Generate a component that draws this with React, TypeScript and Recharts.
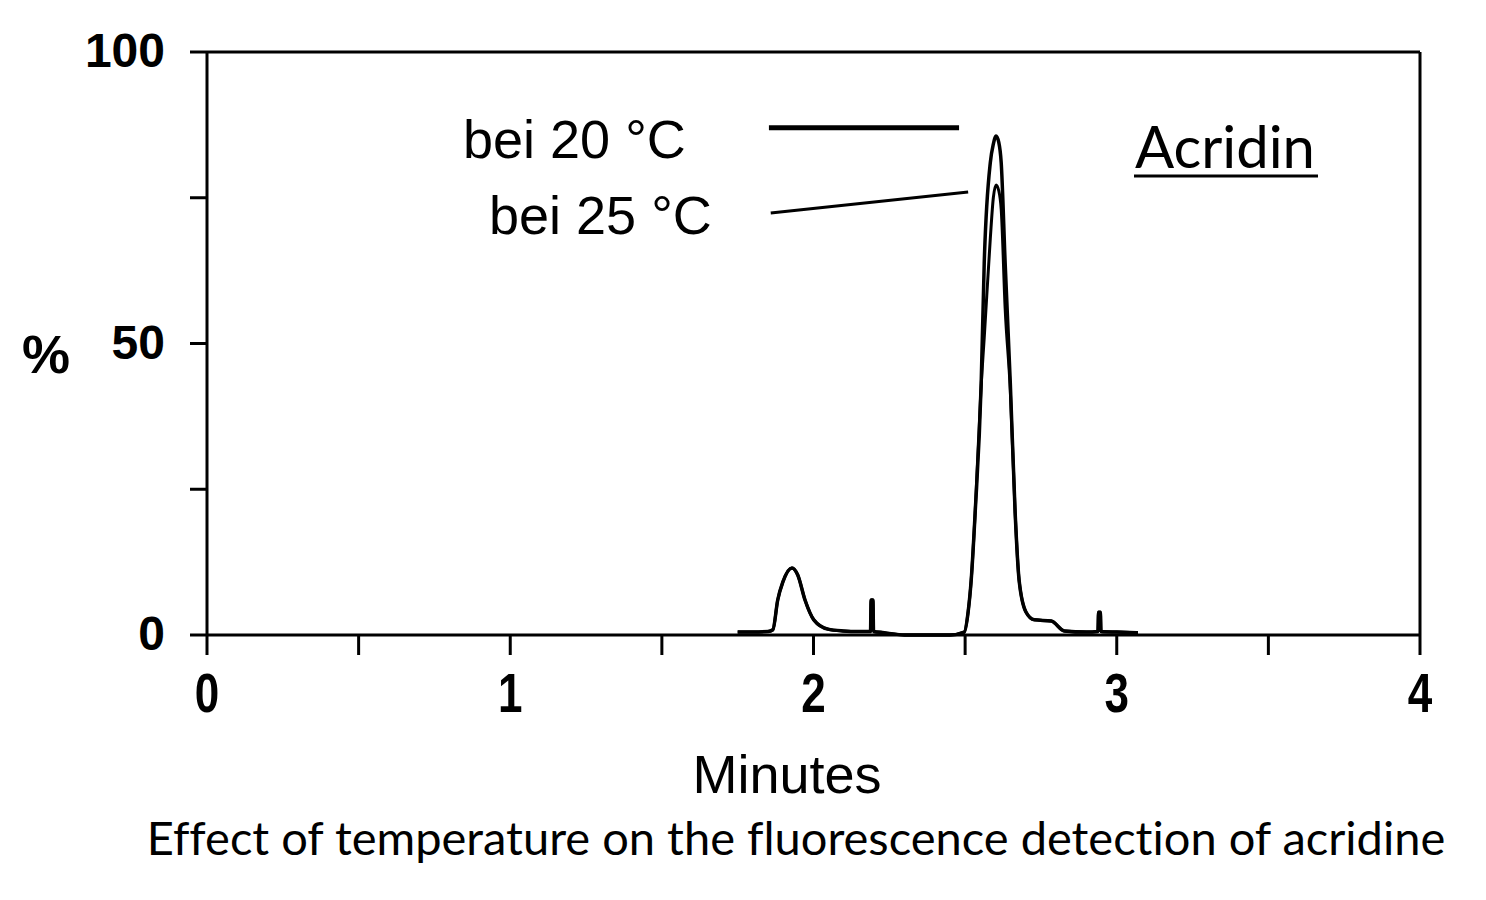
import { LineChart, Line, XAxis, YAxis, ReferenceLine } from "recharts"

// retention time in minutes
const minutes = [
  1.75, 1.85, 1.866, 1.882, 1.899, 1.929, 1.948, 1.972, 2.001, 2.048, 2.097, 2.15,
  2.188, 2.19, 2.196, 2.198, 2.233, 2.3, 2.45, 2.497, 2.51, 2.52, 2.533, 2.553,
  2.563, 2.583, 2.593, 2.602, 2.611, 2.619, 2.632, 2.649, 2.665, 2.678, 2.701,
  2.728, 2.784, 2.827, 2.9, 2.938, 2.94, 2.946, 2.948, 3.0, 3.07,
]

// signal in % at 20 °C
const signal20 = [
  0.5, 0.6, 0.9, 6.0, 9.1, 11.5, 10.3, 6.0, 2.6, 1.0, 0.7, 0.6,
  0.6, 6.0, 6.0, 0.6, 0.4, 0, 0, 0.5, 4, 9.4, 20.9, 43.2,
  63.8, 81.0, 84.2, 85.6, 84.5, 81.0, 63.8, 43.2, 20.9, 9.4, 3.9,
  2.6, 2.4, 0.7, 0.5, 0.6, 3.9, 3.9, 0.6, 0.5, 0.4,
]

// signal in % at 25 °C
const signal25 = [
  0.5, 0.6, 0.9, 6.0, 9.1, 11.5, 10.3, 6.0, 2.6, 1.0, 0.7, 0.6,
  0.6, 6.0, 6.0, 0.6, 0.4, 0, 0, 0.5, 4, 9.4, 20.9, 43.0,
  51.0, 68.0, 75.0, 77.2, 76.2, 73.0, 56.0, 42.0, 20.9, 9.4, 3.9,
  2.6, 2.4, 0.7, 0.5, 0.6, 3.9, 3.9, 0.6, 0.5, 0.4,
]

const xTicks = [0, 0.5, 1, 1.5, 2, 2.5, 3, 3.5, 4]
const xLabels = [0, 1, 2, 3, 4]
const yTicks = [0, 25, 50, 75, 100]
const yLabels = [0, 50, 100]

const data = minutes.map((m, i) => ({ m, t20: signal20[i], t25: signal25[i] }))

const XTick = (props: any) => {
  const v = props.payload.value
  if (!xLabels.includes(v)) return null
  // squeeze the digits a bit, the scan uses a condensed face
  return (
    <text
      transform={`translate(${props.x},${props.y}) scale(0.8,1)`}
      dy={57}
      textAnchor="middle"
      fontFamily="'Liberation Sans', Arial, sans-serif"
      fontWeight="bold"
      fontSize={55}
      fill="#000"
    >
      {v}
    </text>
  )
}

const YTick = (props: any) => {
  const v = props.payload.value
  if (!yLabels.includes(v)) return null
  return (
    <text
      x={props.x}
      y={props.y}
      dy={15}
      textAnchor="end"
      fontFamily="'Liberation Sans', Arial, sans-serif"
      fontWeight="bold"
      fontSize={48}
      fill="#000"
    >
      {v}
    </text>
  )
}

export default function App() {
  return (
    <div style={{ position: "absolute", left: 0, top: 0, width: 1486, height: 900, background: "#fff" }}>
      <LineChart
        width={1486}
        height={900}
        data={data}
        margin={{ top: 52, right: 66, left: 147, bottom: 235 }}
      >
        <XAxis
          dataKey="m"
          type="number"
          domain={[0, 4]}
          ticks={xTicks}
          interval={0}
          height={30}
          stroke="#000"
          strokeWidth={3}
          tickSize={20}
          tickMargin={0}
          tick={<XTick />}
          tickLine={{ stroke: "#000", strokeWidth: 3 }}
        />
        <YAxis
          type="number"
          domain={[0, 100]}
          ticks={yTicks}
          interval={0}
          width={60}
          stroke="#000"
          strokeWidth={3}
          tickSize={17}
          tickMargin={25}
          tick={<YTick />}
          tickLine={{ stroke: "#000", strokeWidth: 3 }}
        />
        <ReferenceLine y={100} stroke="#000" strokeWidth={3} />
        <ReferenceLine x={4} stroke="#000" strokeWidth={3} />
        <ReferenceLine
          segment={[{ x: 1.853, y: 87 }, { x: 2.48, y: 87 }]}
          stroke="#000"
          strokeWidth={5}
        />
        <ReferenceLine
          segment={[{ x: 1.859, y: 72.4 }, { x: 2.51, y: 76.0 }]}
          stroke="#000"
          strokeWidth={3}
        />
        <Line
          type="monotone"
          dataKey="t20"
          stroke="#000"
          strokeWidth={3.5}
          dot={false}
          isAnimationActive={false}
        />
        <Line
          type="monotone"
          dataKey="t25"
          stroke="#000"
          strokeWidth={3}
          dot={false}
          isAnimationActive={false}
        />
      </LineChart>
      <svg
        width={1486}
        height={900}
        style={{ position: "absolute", left: 0, top: 0, pointerEvents: "none" }}
      >
        <g fontFamily="'Liberation Sans', Arial, sans-serif" fill="#000">
          <text x={463} y={158} fontSize={54}>bei 20 °C</text>
          <text x={489} y={234} fontSize={54}>bei 25 °C</text>
          <text x={46} y={373} fontSize={54} fontWeight="bold" textAnchor="middle">%</text>
          <text x={787} y={793} fontSize={54} textAnchor="middle">Minutes</text>
        </g>
        <g fontFamily="Lato, 'Open Sans', sans-serif" fill="#000" style={{ fontVariantLigatures: "none" }}>
          <text x={1135} y={168} fontSize={58}>Acridin</text>
          <line x1={1134} y1={176} x2={1318} y2={176} stroke="#000" strokeWidth={3} />
          <text x={796} y={855} fontSize={47} textAnchor="middle">
            Effect of temperature on the fluorescence detection of acridine
          </text>
        </g>
      </svg>
    </div>
  )
}
